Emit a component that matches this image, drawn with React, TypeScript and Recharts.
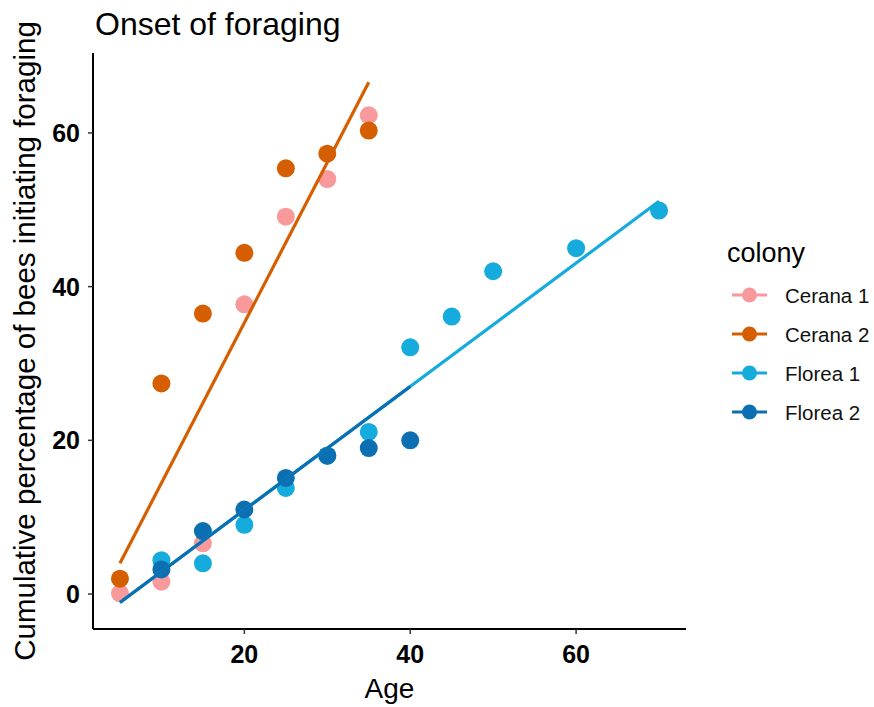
import React from 'react';
import { ComposedChart, Scatter, XAxis, YAxis } from 'recharts';

// Observed data (age in days, cumulative % of bees initiating foraging)
const ceranaAges = [5, 10, 15, 20, 25, 30, 35];
const cerana1 = [0.1, 1.6, 6.6, 37.7, 49.1, 54.0, 62.3];
const cerana2 = [2.0, 27.4, 36.5, 44.4, 55.4, 57.3, 60.3];
const florea1Ages = [10, 15, 20, 25, 30, 35, 40, 45, 50, 60, 70];
const florea1 = [4.4, 4.0, 9.0, 13.8, 18.0, 21.1, 32.1, 36.1, 42.0, 45.0, 49.9];
const florea2Ages = [10, 15, 20, 25, 30, 35, 40];
const florea2 = [3.2, 8.2, 11.0, 15.1, 18.0, 19.0, 20.0];

// Fitted regression lines (end points)
const ceranaFitAges = [5, 35];
const ceranaFit = [4.0, 66.6];
const florea1FitAges = [5, 70];
const florea1Fit = [-1.1, 51.1];
const florea2FitAges = [5, 40];
const florea2Fit = [-1.1, 27.0];

const xTicks = [20, 40, 60];
const yTicks = [0, 20, 40, 60];
const colonies = ['Cerana 1', 'Cerana 2', 'Florea 1', 'Florea 2'];
const colors = ['#F8999B', '#D55E00', '#16ABDD', '#0B6FB1'];

const toPts = (xs: number[], ys: number[]) => xs.map((x, i) => ({ x, y: ys[i] }));

const FONT = '"Liberation Sans", Arial, sans-serif';

const dot = (color: string) => (p: any) => (
  <circle cx={p.cx} cy={p.cy} r={9} fill={color} />
);
const noDot = () => <g />;

export default function App() {
  const pointSeries = [
    { data: toPts(ceranaAges, cerana1), color: colors[0] },
    { data: toPts(ceranaAges, cerana2), color: colors[1] },
    { data: toPts(florea1Ages, florea1), color: colors[2] },
    { data: toPts(florea2Ages, florea2), color: colors[3] },
  ];
  const fitSeries = [
    { data: toPts(ceranaFitAges, ceranaFit), color: colors[1] },
    { data: toPts(florea1FitAges, florea1Fit), color: colors[2] },
    { data: toPts(florea2FitAges, florea2Fit), color: colors[3] },
  ];
  const tickStyle = { fill: '#000', fontSize: 25, fontWeight: 'bold', fontFamily: FONT };
  const legendY = [295, 334, 373, 412];
  return (
    <div style={{ position: 'absolute', left: 0, top: 0, width: 874, height: 707, background: '#fff' }}>
      <ComposedChart
        width={874}
        height={707}
        margin={{ top: 53, right: 188, bottom: 28, left: 13 }}
      >
        <XAxis
          type="number"
          dataKey="x"
          domain={[1.75, 73.25]}
          ticks={xTicks}
          interval={0}
          height={50}
          tick={tickStyle}
          tickSize={5}
          tickMargin={11}
          axisLine={{ stroke: '#000', strokeWidth: 2 }}
          tickLine={{ stroke: '#333', strokeWidth: 1.5 }}
          allowDataOverflow
        />
        <YAxis
          type="number"
          dataKey="y"
          domain={[-4.55, 70.4]}
          ticks={yTicks}
          interval={0}
          width={80}
          tick={tickStyle}
          tickSize={5}
          tickMargin={8}
          axisLine={{ stroke: '#000', strokeWidth: 2 }}
          tickLine={{ stroke: '#333', strokeWidth: 1.5 }}
          allowDataOverflow
        />
        {pointSeries.map((s, i) => (
          <Scatter
            key={'p' + i}
            data={s.data}
            fill={s.color}
            shape={dot(s.color)}
            isAnimationActive={false}
          />
        ))}
        {fitSeries.map((s, i) => (
          <Scatter
            key={'f' + i}
            data={s.data}
            fill="none"
            line={{ stroke: s.color, strokeWidth: 3.2 }}
            shape={noDot}
            isAnimationActive={false}
          />
        ))}
      </ComposedChart>
      <svg
        width={874}
        height={707}
        style={{ position: 'absolute', left: 0, top: 0, pointerEvents: 'none' }}
      >
        <text x={95} y={35} fontSize={32} fontFamily={FONT} fill="#000">
          Onset of foraging
        </text>
        <text
          transform="translate(35,341) rotate(-90)"
          textAnchor="middle"
          fontSize={29.5}
          fontFamily={FONT}
          fill="#000"
        >
          Cumulative percentage of bees initiating foraging
        </text>
        <text x={389.5} y={698} textAnchor="middle" fontSize={28} fontFamily={FONT} fill="#000">
          Age
        </text>
        <text x={727} y={262} fontSize={27} fontFamily={FONT} fill="#000">
          colony
        </text>
        {colonies.map((c, i) => (
          <g key={c}>
            <line x1={732} x2={767} y1={legendY[i]} y2={legendY[i]} stroke={colors[i]} strokeWidth={3.2} />
            <circle cx={749.5} cy={legendY[i]} r={7.5} fill={colors[i]} />
            <text x={785} y={legendY[i] + 8} fontSize={20.5} fontFamily={FONT} fill="#111">
              {c}
            </text>
          </g>
        ))}
      </svg>
    </div>
  );
}
